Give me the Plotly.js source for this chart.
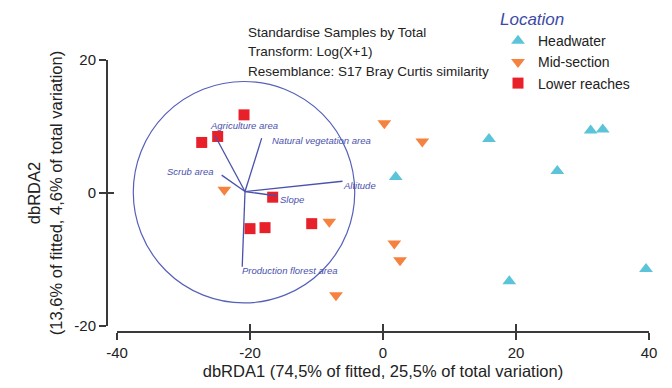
<!DOCTYPE html>
<html><head><meta charset="utf-8">
<script src="https://cdn.plot.ly/plotly-3.0.1.min.js"></script>
<style>html,body{margin:0;padding:0;background:#fff}#chart{width:672px;height:388px}</style>
</head><body><div id="chart"></div>
<script>
// ---- data ----
const headwaterX = [1.91, 15.94, 26.21, 31.23, 33.04, 39.55, 18.99];
const headwaterY = [2.40, 8.13, 3.29, 9.39, 9.54, -11.42, -13.28];
const midX = [-23.86, -8.08, -7.07, 0.20, 5.91, 1.70, 2.56];
const midY = [0.49, -4.34, -15.37, 10.48, 7.74, -7.59, -10.13];
const lowerX = [-20.90, -24.86, -27.26, -16.59, -20.00, -17.74, -10.72];
const lowerY = [11.75, 8.50, 7.60, -0.63, -5.36, -5.21, -4.61];
const vectorNames = ['Agriculture area', 'Natural vegetation area', 'Scrub area', 'Altitude', 'Slope', 'Production florest area'];
const vectorOriginX = -20.75;
const vectorOriginY = 0.22;
const vectorEndX = [-25.26, -18.24, -24.26, -6.09, -15.86, -21.17];
const vectorEndY = [8.61, 8.26, 2.69, 1.77, -0.45, -11.09];
const circleCenterX = -20.9;
const circleCenterY = 0.12;
const circleRadius = 16.65;
const xTicks = [-40, -20, 0, 20, 40];
const xTickText = ['-40', '-20', '0', '20', '40'];
const yTicks = [-20, 0, 20];
const yTickText = ['-20', '0', '20'];
const infoLines = ['Standardise Samples by Total', 'Transform: Log(X+1)', 'Resemblance: S17 Bray Curtis similarity'];
const seriesNames = ['Headwater', 'Mid-section', 'Lower reaches'];
const xTitle = 'dbRDA1 (74,5% of fitted, 25,5% of total variation)';
const yTitle = 'dbRDA2<br>(13,6% of fitted, 4,6% of total variation)';

// ---- styles ----
const W = 672, H = 388;
const FONT = 'Liberation Sans, Arial, Helvetica, sans-serif';
const AX = '#3a3a3a';
const VEC = '#4a52ad';
const labelAnchor = ['left', 'left', 'right', 'left', 'left', 'left'];
const labelShiftX = [-7, 8, -7, -2, 0, -2];
const labelShiftY = [10, -2, 4, -4, -4, -4];
const px = v => v / W;
const py = v => 1 - v / H;

const xDomain = [px(117), px(649)];
const yDomain = [py(326), py(60)];

// vectors: one trace with gaps
const vx = [], vy = [];
vectorEndX.forEach((ex, i) => { vx.push(vectorOriginX, ex, null); vy.push(vectorOriginY, vectorEndY[i], null); });

const traces = [
  { type: 'scatter', mode: 'markers', name: seriesNames[0], x: headwaterX, y: headwaterY,
    marker: { symbol: 'triangle-up', size: 12, color: '#5bc4d8' }, cliponaxis: false },
  { type: 'scatter', mode: 'markers', name: seriesNames[1], x: midX, y: midY,
    marker: { symbol: 'triangle-down', size: 12, color: '#f5823f' }, cliponaxis: false },
  { type: 'scatter', mode: 'markers', name: seriesNames[2], x: lowerX, y: lowerY,
    marker: { symbol: 'square', size: 11, color: '#e8202a' }, cliponaxis: false },
  { type: 'scatter', mode: 'lines', x: vx, y: vy, showlegend: false, hoverinfo: 'skip',
    line: { color: VEC, width: 1.3 }, cliponaxis: false },
  { type: 'scatter', mode: 'markers', x: [], y: [], xaxis: 'x2', yaxis: 'y2', showlegend: false, hoverinfo: 'skip' }
];

const annotations = vectorNames.map((t, i) => ({
  x: vectorEndX[i], y: vectorEndY[i], xref: 'x', yref: 'y', text: '<i>' + t + '</i>', showarrow: false,
  xanchor: labelAnchor[i], yanchor: 'middle', xshift: labelShiftX[i], yshift: labelShiftY[i],
  font: { family: FONT, size: 9.5, color: VEC }
}));
const infoY = [32, 52, 71];
infoLines.forEach((t, i) => annotations.push({
  x: px(246), y: py(infoY[i]), xref: 'paper', yref: 'paper', text: t, showarrow: false,
  xanchor: 'left', yanchor: 'middle', font: { family: FONT, size: 13.5, color: '#222' }
}));

const baseAxis = { showgrid: false, zeroline: false, showline: true, linecolor: AX, linewidth: 1.5,
  ticks: 'outside', ticklen: 7, tickwidth: 1.5, tickcolor: AX, anchor: 'free',
  tickfont: { family: FONT, size: 15, color: '#222' } };

const layout = {
  width: W, height: H, margin: { l: 0, r: 0, t: 0, b: 0 },
  paper_bgcolor: '#fff', plot_bgcolor: 'rgba(0,0,0,0)',
  font: { family: FONT, color: '#222' },
  xaxis: Object.assign({}, baseAxis, { domain: xDomain, range: [-40, 40], position: py(331),
    tickmode: 'array', tickvals: xTicks, ticktext: xTickText,
    title: { text: xTitle, font: { family: FONT, size: 16.5, color: '#222' }, standoff: 6 } }),
  yaxis: Object.assign({}, baseAxis, { domain: yDomain, range: [-20, 20], position: px(106),
    tickmode: 'array', tickvals: yTicks, ticktext: yTickText,
    title: { text: yTitle, font: { family: FONT, size: 16.5, color: '#222' }, standoff: 6 } }),
  xaxis2: { overlaying: 'x', range: [-40, 40], anchor: 'free', position: py(331), showgrid: false, zeroline: false,
    showline: false, ticks: 'inside', ticklen: 7, tickwidth: 1.5, tickcolor: AX, tickmode: 'array', tickvals: xTicks,
    showticklabels: false },
  yaxis2: { overlaying: 'y', range: [-20, 20], anchor: 'free', position: px(106), showgrid: false, zeroline: false,
    showline: false, ticks: 'inside', ticklen: 7, tickwidth: 1.5, tickcolor: AX, tickmode: 'array', tickvals: yTicks,
    showticklabels: false },
  shapes: [{ type: 'circle', xref: 'x', yref: 'y', x0: circleCenterX - circleRadius, x1: circleCenterX + circleRadius,
    y0: circleCenterY - circleRadius, y1: circleCenterY + circleRadius, line: { color: '#5660b8', width: 1.2 }, layer: 'above' }],
  legend: { x: px(498), y: py(3), xanchor: 'left', yanchor: 'top', bgcolor: 'rgba(0,0,0,0)', borderwidth: 0,
    itemsizing: 'trace', tracegroupgap: 0,
    title: { text: '<i>Location</i>', font: { family: FONT, size: 17, color: '#3d4aa8' } },
    font: { family: FONT, size: 14, color: '#222' } },
  annotations: annotations,
  showlegend: true
};

Plotly.newPlot('chart', traces, layout, { displayModeBar: false, staticPlot: true });
</script>
</body></html>
